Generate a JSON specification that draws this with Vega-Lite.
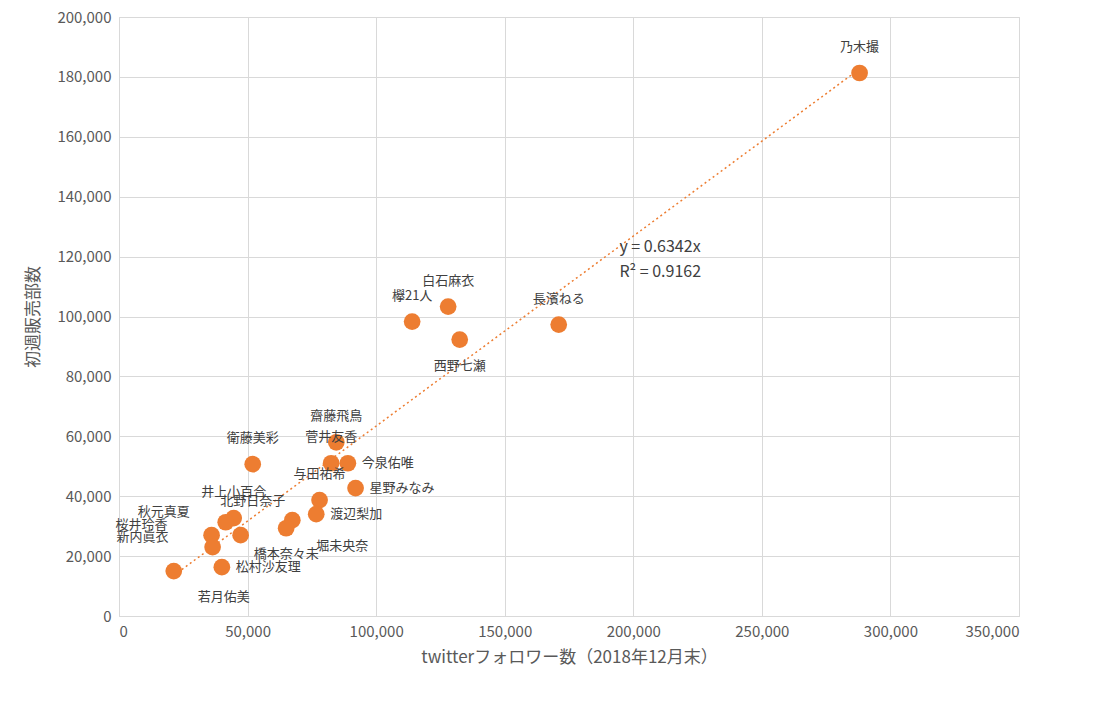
{
  "$schema": "https://vega.github.io/schema/vega-lite/v6.json",
  "width": 900,
  "height": 599,
  "padding": {"left": 24, "top": 10, "right": 40, "bottom": 5},
  "background": "white",
  "config": {
    "font": "Noto Sans CJK JP",
    "view": {"stroke": "#d9d9d9"},
    "axis": {"labelColor": "#595959", "labelFontSize": 15, "titleColor": "#595959", "titleFontSize": 17, "titleFontWeight": "normal", "gridColor": "#d9d9d9", "domain": false, "ticks": false, "labelPadding": 8}
  },
  "datasets": {
    "pts": [
      {"name": "乃木撮", "x": 288000, "y": 181300, "pos": "above"},
      {"name": "白石麻衣", "x": 128000, "y": 103300, "pos": "above"},
      {"name": "欅21人", "x": 114000, "y": 98300, "pos": "above"},
      {"name": "西野七瀬", "x": 132500, "y": 92300, "pos": "below"},
      {"name": "長濱ねる", "x": 171000, "y": 97300, "pos": "above"},
      {"name": "齋藤飛鳥", "x": 84500, "y": 58000, "pos": "above"},
      {"name": "菅井友香", "x": 82500, "y": 51000, "pos": "above"},
      {"name": "今泉佑唯", "x": 89000, "y": 51000, "pos": "right"},
      {"name": "衛藤美彩", "x": 52000, "y": 50700, "pos": "above"},
      {"name": "星野みなみ", "x": 92000, "y": 42700, "pos": "right"},
      {"name": "与田祐希", "x": 78000, "y": 38700, "pos": "above"},
      {"name": "渡辺梨加", "x": 76700, "y": 34000, "pos": "right"},
      {"name": "堀未央奈", "x": 67400, "y": 32000, "pos": "belowright"},
      {"name": "橋本奈々未", "x": 65000, "y": 29300, "pos": "below"},
      {"name": "井上小百合", "x": 44600, "y": 32700, "pos": "above"},
      {"name": "北野日奈子", "x": 47300, "y": 27000, "pos": "aboveright"},
      {"name": "秋元真夏", "x": 41500, "y": 31300, "pos": "leftup"},
      {"name": "桜井玲香", "x": 36000, "y": 27000, "pos": "left"},
      {"name": "新内眞衣", "x": 36400, "y": 23000, "pos": "left"},
      {"name": "松村沙友理", "x": 40000, "y": 16300, "pos": "right"},
      {"name": "若月佑美", "x": 21300, "y": 15000, "pos": "belowright"}
    ],
    "trend": [
      {"x": 21300, "y": 13509},
      {"x": 288000, "y": 182650}
    ],
    "eq": [
      {"x": 194600, "y": 123300, "t": "y = 0.6342x"},
      {"x": 194600, "y": 115000, "t": "R² = 0.9162"}
    ]
  },
  "encoding": {
    "x": {"field": "x", "type": "quantitative", "scale": {"domain": [0, 350000]}, "axis": {"values": [0, 50000, 100000, 150000, 200000, 250000, 300000, 350000], "format": ",.0f", "title": "twitterフォロワー数（2018年12月末）", "titlePadding": 10}},
    "y": {"field": "y", "type": "quantitative", "scale": {"domain": [0, 200000]}, "axis": {"values": [0, 20000, 40000, 60000, 80000, 100000, 120000, 140000, 160000, 180000, 200000], "format": ",.0f", "title": "初週販売部数", "titlePadding": 14}}
  },
  "layer": [
    {"data": {"name": "trend"}, "mark": {"type": "line", "color": "#ED7D31", "strokeDash": [2, 3], "strokeWidth": 1.5}, "encoding": {}},
    {"data": {"name": "pts"}, "mark": {"type": "circle", "color": "#ED7D31", "opacity": 1, "size": 280}, "encoding": {}},
    {"data": {"name": "pts"}, "transform": [{"filter": "datum.pos == 'above'"}], "mark": {"type": "text", "dy": -26, "fontSize": 13, "color": "#404040"}, "encoding": {"text": {"field": "name"}}},
    {"data": {"name": "pts"}, "transform": [{"filter": "datum.pos == 'aboveright'"}], "mark": {"type": "text", "dy": -34, "dx": 12, "fontSize": 13, "color": "#404040"}, "encoding": {"text": {"field": "name"}}},
    {"data": {"name": "pts"}, "transform": [{"filter": "datum.pos == 'below'"}], "mark": {"type": "text", "dy": 26, "fontSize": 13, "color": "#404040"}, "encoding": {"text": {"field": "name"}}},
    {"data": {"name": "pts"}, "transform": [{"filter": "datum.pos == 'belowright'"}], "mark": {"type": "text", "dy": 26, "dx": 50, "fontSize": 13, "color": "#404040"}, "encoding": {"text": {"field": "name"}}},
    {"data": {"name": "pts"}, "transform": [{"filter": "datum.pos == 'leftup'"}], "mark": {"type": "text", "align": "right", "dx": -36, "dy": -10, "fontSize": 13, "color": "#404040"}, "encoding": {"text": {"field": "name"}}},
    {"data": {"name": "pts"}, "transform": [{"filter": "datum.pos == 'left'"}], "mark": {"type": "text", "align": "right", "dx": -44, "dy": -10, "fontSize": 13, "color": "#404040"}, "encoding": {"text": {"field": "name"}}},
    {"data": {"name": "pts"}, "transform": [{"filter": "datum.pos == 'left'"}], "mark": {"type": "text", "opacity": 0, "fontSize": 1}, "encoding": {"text": {"value": ""}}},
    {"data": {"name": "pts"}, "transform": [{"filter": "datum.pos == 'right'"}], "mark": {"type": "text", "align": "left", "dx": 14, "fontSize": 13, "color": "#404040"}, "encoding": {"text": {"field": "name"}}},
    {"data": {"name": "eq"}, "mark": {"type": "text", "align": "left", "fontSize": 16, "color": "#404040"}, "encoding": {"text": {"field": "t"}}}
  ]
}
